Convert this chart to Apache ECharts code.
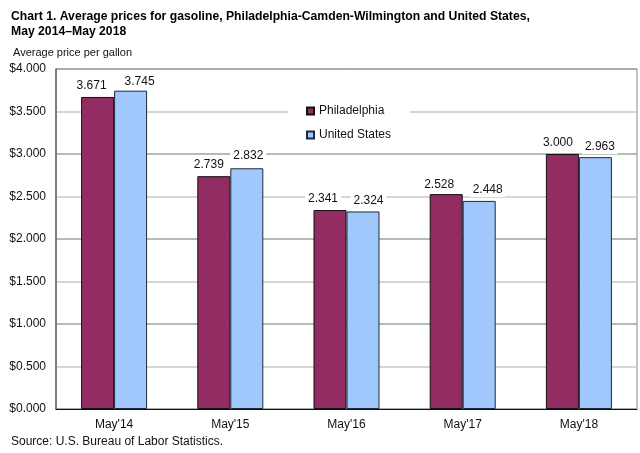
<!DOCTYPE html>
<html><head><meta charset="utf-8">
<style>html,body{margin:0;padding:0;background:#fff}#c{width:640px;height:453px}</style>
<script src="https://cdn.jsdelivr.net/npm/echarts@6/dist/echarts.min.js"></script>
</head><body><div id="c"></div>
<script>
const categories = ["May'14","May'15","May'16","May'17","May'18"];
const philadelphia = [3.671,2.739,2.341,2.528,3.000];
const unitedStates = [3.745,2.832,2.324,2.448,2.963];
const yTicks = {min:0,max:4,interval:0.5};
const font = '"Liberation Sans", Arial, sans-serif';
// hand-placed label nudges seen in the reference
const phlLabelNudge = [[-6,0],[-5,0],[-7,0],[-7,2],[-4.5,0]];
const usLabelNudge = [[9,2],[1.5,-1.5],[5.5,0],[8.5,0],[4.5,1]];
const labelCfg = {show:true,position:'top',distance:4,color:'#111',fontFamily:font,fontSize:12,
  backgroundColor:'#fff',padding:[1,3],formatter:p=>p.value.toFixed(3)};
const withNudge = (vals,nudge)=>vals.map((v,i)=>({value:v,label:{offset:nudge[i]}}));
const chart = echarts.init(document.getElementById('c'),null,{renderer:'canvas'});
chart.setOption({
  animation:false,
  backgroundColor:'#fff',
  title:[
    {text:'Chart 1. Average prices for gasoline, Philadelphia-Camden-Wilmington and United States,\nMay 2014\u2013May 2018',
     left:11,top:9,padding:0,textStyle:{fontFamily:font,fontSize:12.2,fontWeight:'bold',color:'#000',lineHeight:15}},
    {text:'Average price per gallon',left:13,top:47,padding:0,textStyle:{fontFamily:font,fontSize:11,fontWeight:'normal',color:'#111'}},
    {text:'Source: U.S. Bureau of Labor Statistics.',left:11,top:436,padding:0,textStyle:{fontFamily:font,fontSize:12,fontWeight:'normal',color:'#111'}}
  ],
  grid:{left:56,right:3,top:69,bottom:44,show:true,borderColor:'#8a8a8a',borderWidth:1,backgroundColor:'transparent'},
  legend:{
    orient:'vertical',left:288,top:98,padding:[7,19,7,18],itemGap:12,itemWidth:7,itemHeight:7,
    backgroundColor:'#fff',
    textStyle:{fontFamily:font,fontSize:12,color:'#111'},
    data:[{name:'Philadelphia',icon:'rect'},{name:'United States',icon:'rect'}]
  },
  xAxis:{type:'category',data:categories,
    axisLine:{lineStyle:{color:'#111',width:1}},axisTick:{show:false},
    axisLabel:{color:'#111',fontFamily:font,fontSize:12,margin:10}},
  yAxis:{type:'value',min:yTicks.min,max:yTicks.max,interval:yTicks.interval,
    axisLine:{show:true,lineStyle:{color:'#666',width:1.5}},axisTick:{show:false},
    axisLabel:{color:'#111',fontFamily:font,fontSize:12,margin:10,padding:[2,0,0,0],formatter:v=>'$'+v.toFixed(3)},
    splitLine:{show:true,lineStyle:{color:['#9aa898','#cbc8c4'],width:1.5}}},
  series:[
    {name:'Philadelphia',type:'bar',data:withNudge(philadelphia,phlLabelNudge),barWidth:33,barGap:'0%',
     itemStyle:{color:'#932c63',borderColor:'#111',borderWidth:1},label:labelCfg},
    {name:'United States',type:'bar',data:withNudge(unitedStates,usLabelNudge),barWidth:33,barGap:'0%',
     itemStyle:{color:'#a0c8fc',borderColor:'#1a2a3a',borderWidth:1},label:labelCfg}
  ]
});
</script></body></html>
